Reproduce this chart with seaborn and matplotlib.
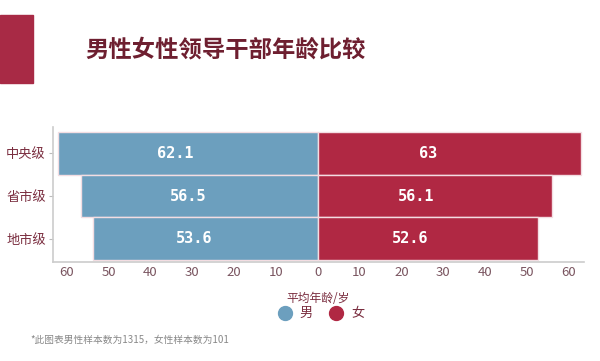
import matplotlib
matplotlib.use("Agg")
import matplotlib.pyplot as plt
from matplotlib.lines import Line2D
from matplotlib.patches import Rectangle
from matplotlib.ticker import FuncFormatter
import seaborn as sns
import pandas as pd

# data
levels = ["中央级", "省市级", "地市级"]
male_age = [62.1, 56.5, 53.6]
female_age = [63, 56.1, 52.6]
male_labels = ["62.1", "56.5", "53.6"]
female_labels = ["63", "56.1", "52.6"]
x_ticks = [-60, -50, -40, -30, -20, -10, 0, 10, 20, 30, 40, 50, 60]

male_color = "#6c9fbe"
female_color = "#b02843"
dark_red = "#6e1f30"

sns.set_theme(style="white")
plt.rcParams["font.family"] = ["Noto Sans CJK SC", "DejaVu Sans"]

df = pd.DataFrame({
    "level": levels * 2,
    "age": [-v for v in male_age] + female_age,
    "sex": ["男"] * 3 + ["女"] * 3,
})

fig = plt.figure(figsize=(6, 3.61), dpi=100)
ax = fig.add_axes([0.088, 0.274, 0.885, 0.374])

sns.barplot(data=df, x="age", y="level", hue="sex", dodge=False, orient="h",
            palette={"男": male_color, "女": female_color}, width=1.0,
            saturation=1, edgecolor="#f3dde2", linewidth=1.0, legend=False, ax=ax)

ax.set_xlim(-63.3, 63.6)
ax.set_ylim(2.55, -0.62)
ax.set_xticks(x_ticks)
ax.xaxis.set_major_formatter(FuncFormatter(lambda v, p: f"{abs(int(v))}"))
ax.set_xlabel("")
ax.set_ylabel("")
ax.tick_params(axis="x", length=0, labelsize=9.5, labelcolor="#7a5560", pad=3)
ax.tick_params(axis="y", length=3, width=0.8, color="#bbbbbb", labelsize=9.5,
               labelcolor="#7a2d3f", pad=2, left=True)
for s in ["top", "right"]:
    ax.spines[s].set_visible(False)
for s in ["left", "bottom"]:
    ax.spines[s].set_color("#cccccc")
    ax.spines[s].set_linewidth(1.2)

# value labels inside bars
for i in range(len(levels)):
    ax.text(-male_age[i] * 0.55, i, male_labels[i], ha="center", va="center",
            color="white", fontsize=11, fontweight="bold", family="DejaVu Sans Mono")
    ax.text(female_age[i] * 0.42, i, female_labels[i], ha="center", va="center",
            color="white", fontsize=11, fontweight="bold", family="DejaVu Sans Mono")

# header block and title
fig.patches.append(Rectangle((0, 1 - 83 / 361), 33 / 600, 68 / 361,
                             transform=fig.transFigure, color="#a82a45", zorder=0))
fig.text(85 / 600, 1 - 50 / 361, "男性女性领导干部年龄比较", fontsize=16.8,
         fontweight="bold", color=dark_red, va="center", ha="left")

# legend
handles = [
    Line2D([], [], marker="o", linestyle="", markersize=10, color=male_color, label="男"),
    Line2D([], [], marker="o", linestyle="", markersize=10, color=female_color, label="女"),
]
leg = fig.legend(handles=handles, title="平均年龄/岁", ncol=2, frameon=False,
                 loc="center", bbox_to_anchor=(318 / 600, 1 - 306 / 361),
                 handletextpad=0.1, columnspacing=0.8, fontsize=9.5,
                 title_fontsize=8.5, borderpad=0, labelspacing=0.2)
leg.get_title().set_color("#7a2d3f")
for t in leg.get_texts():
    t.set_color("#7a2d3f")

fig.text(30 / 600, 1 - 340 / 361, "*此图表男性样本数为1315，女性样本数为101",
         fontsize=7, color="#888888", va="center", ha="left")

fig.savefig("out.png", dpi=100)
